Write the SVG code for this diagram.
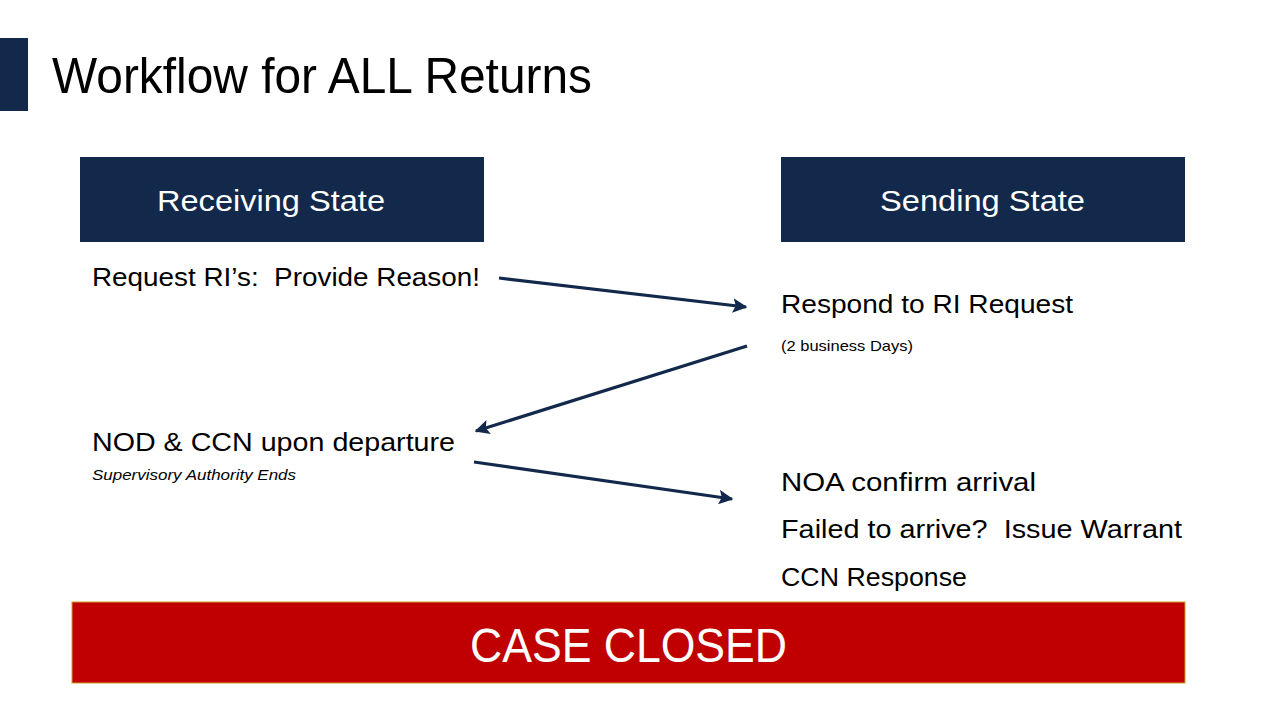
<svg xmlns="http://www.w3.org/2000/svg" width="1280" height="720" viewBox="0 0 1280 720">
  <defs>
    <marker id="arrow" viewBox="0 0 10 10" refX="9" refY="5" markerWidth="4.6" markerHeight="4.6" orient="auto" markerUnits="strokeWidth">
      <path d="M0,0 L10,5 L0,10 L2,5 Z" fill="#13294B"/>
    </marker>
  </defs>
  <style>
    text { font-family: "Liberation Sans", Arial, sans-serif; white-space: pre; }
    .title { font-size: 50px; fill: #000; }
    .head { font-size: 30px; fill: #fff; }
    .item { font-size: 26px; fill: #000; }
    .note { font-size: 15px; fill: #000; }
    .navy { fill: #13294B; }
    .conn { stroke: #13294B; stroke-width: 3.2; fill: none; marker-end: url(#arrow); }
  </style>
  <rect width="1280" height="720" fill="#fff"/>

  <g id="title">
    <rect class="navy" x="0" y="38" width="28" height="73"/>
    <text class="title" x="52" y="93" textLength="540" lengthAdjust="spacingAndGlyphs">Workflow for ALL Returns</text>
  </g>

  <g id="receiving-state">
    <rect class="navy" x="80" y="157" width="404" height="85"/>
    <text class="head" x="157" y="211" textLength="228" lengthAdjust="spacingAndGlyphs">Receiving State</text>
  </g>

  <g id="sending-state">
    <rect class="navy" x="781" y="157" width="404" height="85"/>
    <text class="head" x="880" y="211" textLength="205" lengthAdjust="spacingAndGlyphs">Sending State</text>
  </g>

  <g id="request-ri">
    <text class="item" x="92" y="286" textLength="388" lengthAdjust="spacingAndGlyphs" xml:space="preserve">Request RI’s:  Provide Reason!</text>
  </g>

  <g id="respond-ri">
    <text class="item" x="781" y="313" textLength="292" lengthAdjust="spacingAndGlyphs">Respond to RI Request</text>
    <text class="note" x="781" y="351" textLength="132" lengthAdjust="spacingAndGlyphs">(2 business Days)</text>
  </g>

  <g id="nod-ccn">
    <text class="item" x="92" y="451" textLength="363" lengthAdjust="spacingAndGlyphs">NOD &amp; CCN upon departure</text>
    <text class="note" x="92" y="480" font-style="italic" textLength="204" lengthAdjust="spacingAndGlyphs">Supervisory Authority Ends</text>
  </g>

  <g id="arrival">
    <text class="item" x="781" y="491" textLength="255" lengthAdjust="spacingAndGlyphs">NOA confirm arrival</text>
    <text class="item" x="781" y="538" textLength="401" lengthAdjust="spacingAndGlyphs" xml:space="preserve">Failed to arrive?  Issue Warrant</text>
    <text class="item" x="781" y="586" textLength="186" lengthAdjust="spacingAndGlyphs">CCN Response</text>
  </g>

  <g id="case-closed">
    <rect x="72" y="602" width="1113" height="81" fill="#C00000" stroke="#C9A227" stroke-width="1"/>
    <text x="470" y="662" font-size="48" fill="#fff" textLength="317" lengthAdjust="spacingAndGlyphs">CASE CLOSED</text>
  </g>

  <g id="connectors">
    <line class="conn" x1="499" y1="278" x2="746" y2="307"/>
    <line class="conn" x1="747" y1="346" x2="476" y2="431"/>
    <line class="conn" x1="474" y1="462" x2="732" y2="499"/>
  </g>
</svg>
